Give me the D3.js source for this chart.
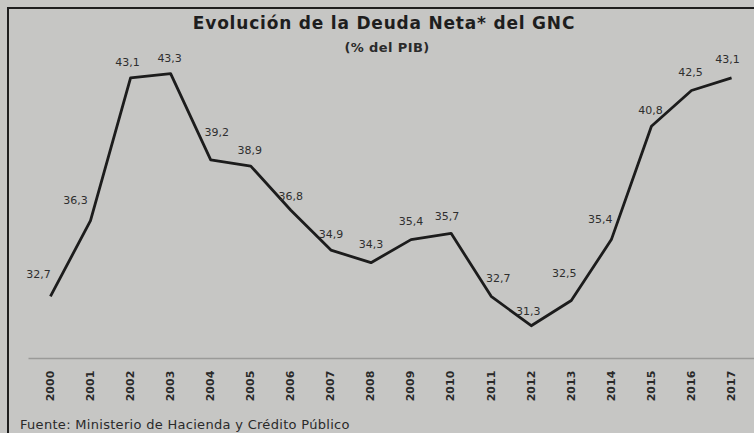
<!DOCTYPE html>
<html>
<head>
<meta charset="utf-8">
<script src="https://cdn.jsdelivr.net/npm/d3@7"></script>
<style>
  body { margin: 0; background: #c5c5c3; }
  text { font-family: "DejaVu Sans", sans-serif; }
</style>
</head>
<body>
<div id="chart"></div>
<script>
// Data
var years = ["2000", "2001", "2002", "2003", "2004", "2005", "2006", "2007", "2008",
             "2009", "2010", "2011", "2012", "2013", "2014", "2015", "2016", "2017"];
var deuda = [32.7, 36.3, 43.1, 43.3, 39.2, 38.9, 36.8, 34.9, 34.3,
             35.4, 35.7, 32.7, 31.3, 32.5, 35.4, 40.8, 42.5, 43.1];
var valueLabels = ["32,7", "36,3", "43,1", "43,3", "39,2", "38,9", "36,8", "34,9", "34,3",
                   "35,4", "35,7", "32,7", "31,3", "32,5", "35,4", "40,8", "42,5", "43,1"];

// small nudges of the value labels, as placed in the original
var labelDx = [-12, -15, -3, -1, 6, -1, 0, 0, 0, 0, -4, 7, -3, -7, -11, -1, -1, -4];
var labelDy = [-22, -21, -16, -16, -28, -16, -14, -16, -19, -18, -17, -18, -15, -27, -20, -16, -18, -19];

var width = 754, height = 433;

var svg = d3.select("#chart").append("svg")
    .attr("width", width)
    .attr("height", height);

svg.append("rect")
    .attr("width", width)
    .attr("height", height)
    .attr("fill", "#c6c6c4");

// frame
svg.append("path")
    .attr("d", "M8," + height + "V8H" + width)
    .attr("fill", "none")
    .attr("stroke", "#1e1e1e")
    .attr("stroke-width", 2);

// scales
var x = d3.scalePoint()
    .domain(years)
    .range([28, width])
    .padding(0.56);

var y = d3.scaleLinear()
    .domain([30, 45])
    .range([353, 38]);

// x axis
var xAxis = svg.append("g")
    .attr("transform", "translate(0,358)")
    .call(d3.axisBottom(x).tickSize(0).tickSizeOuter(0));

xAxis.select(".domain")
    .attr("stroke", "#9a9a98")
    .attr("stroke-width", 1.5);

xAxis.selectAll("text")
    .attr("transform", "translate(-1,28) rotate(-90)")
    .attr("x", 0)
    .attr("y", 0)
    .attr("dy", "0.35em")
    .style("text-anchor", "middle")
    .style("font-family", "DejaVu Sans, sans-serif")
    .style("font-size", "11px")
    .style("font-weight", "bold")
    .attr("fill", "#2a2a2a");

// line
var line = d3.line()
    .x(function(d, i) { return x(years[i]); })
    .y(function(d) { return y(d); });

svg.append("path")
    .datum(deuda)
    .attr("d", line)
    .attr("fill", "none")
    .attr("stroke", "#1c1c1c")
    .attr("stroke-width", 2.8)
    .attr("stroke-linejoin", "round");

// value labels
svg.selectAll(".val")
    .data(deuda)
  .enter().append("text")
    .attr("class", "val")
    .attr("x", function(d, i) { return x(years[i]) + labelDx[i]; })
    .attr("y", function(d, i) { return y(d) + labelDy[i]; })
    .attr("dy", "0.35em")
    .attr("text-anchor", "middle")
    .attr("font-size", 11)
    .attr("fill", "#2e2e2e")
    .text(function(d, i) { return valueLabels[i]; });

// titles
svg.append("text")
    .attr("x", 384)
    .attr("y", 29)
    .attr("text-anchor", "middle")
    .attr("font-size", 17)
    .attr("font-weight", "bold")
    .attr("letter-spacing", 0.8)
    .attr("fill", "#1e1e1e")
    .text("Evolución de la Deuda Neta* del GNC");

svg.append("text")
    .attr("x", 387)
    .attr("y", 52)
    .attr("text-anchor", "middle")
    .attr("font-size", 13)
    .attr("font-weight", "bold")
    .attr("letter-spacing", 0.4)
    .attr("fill", "#2a2a2a")
    .text("(% del PIB)");

// source
svg.append("text")
    .attr("x", 20)
    .attr("y", 429)
    .attr("font-size", 13)
    .attr("letter-spacing", 0.3)
    .attr("fill", "#2a2a2a")
    .text("Fuente: Ministerio de Hacienda y Crédito Público");
</script>
</body>
</html>
